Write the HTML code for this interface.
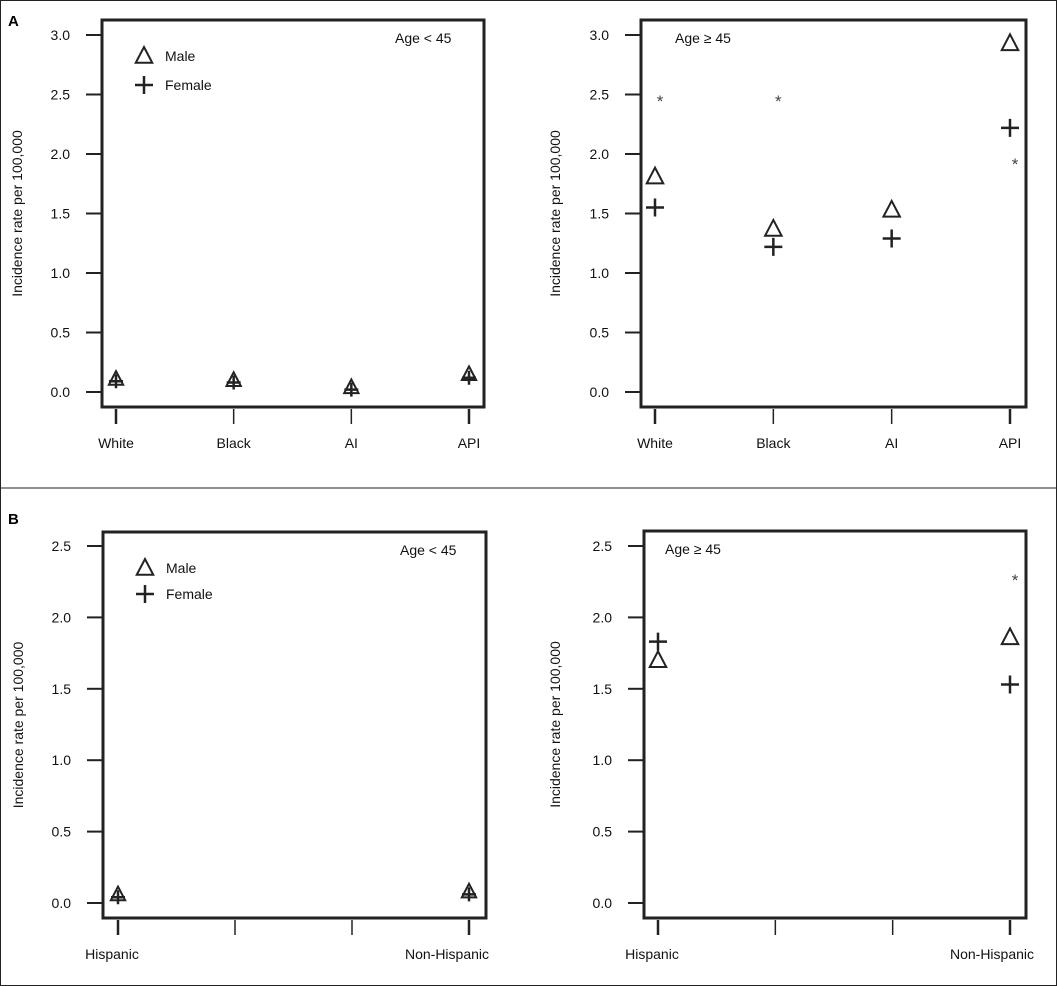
<!DOCTYPE html>
<html><head><meta charset="utf-8"><style>
html,body{margin:0;padding:0;background:#fff}
svg{display:block;font-family:"Liberation Sans",sans-serif}
</style></head><body>
<svg id="fig" width="1057" height="986" viewBox="0 0 1057 986">
<rect x="0.5" y="0.5" width="1056" height="985" fill="none" stroke="#222" stroke-width="1"/>
<line x1="0" y1="488" x2="1057" y2="488" stroke="#222" stroke-width="1"/>
<text x="8" y="26" font-size="15" font-weight="bold">A</text>
<text x="8" y="524" font-size="15" font-weight="bold">B</text>
</svg>
<script>
// Panel A data
const raceCats = ["White","Black","AI","API"];
const aYoungMale = [0.11,0.10,0.04,0.15];
const aYoungFemale = [0.09,0.08,0.02,0.12];
const aOldMale = [1.81,1.37,1.53,2.93];
const aOldFemale = [1.55,1.22,1.29,2.22];
const aOldStar = [2.48,2.48,null,1.95];
const aTicks = [0,0.5,1.0,1.5,2.0,2.5,3.0];
// Panel B data
const ethCats = ["Hispanic","","","Non-Hispanic"];
const bYoungMale = [0.06,null,null,0.08];
const bYoungFemale = [0.04,null,null,0.06];
const bOldMale = [1.70,null,null,1.86];
const bOldFemale = [1.83,null,null,1.53];
const bOldStar = [null,null,null,2.29];
const bTicks = [0,0.5,1.0,1.5,2.0,2.5];

const NS="http://www.w3.org/2000/svg";
const svg=document.getElementById('fig');
function mk(tag,attrs,parent){const e=document.createElementNS(NS,tag);for(const k in attrs)e.setAttribute(k,attrs[k]);(parent||svg).appendChild(e);return e;}

function panel(cfg){
  const g=mk('g',{});
  
  
  const y=v=>cfg.y0-(v-0)*(cfg.y0-cfg.yTop)/cfg.yMax;
  const x=i=>cfg.xs[0]+i*(cfg.xs[1]-cfg.xs[0])/3;
  const box=mk('rect',{x:cfg.bx0,y:cfg.by0,width:cfg.bx1-cfg.bx0,height:cfg.by1-cfg.by0,fill:'none',stroke:'#222','stroke-width':3},g);
  
  
  cfg.ticks.forEach(t=>{
    const l=mk('line',{x1:cfg.bx0-16,x2:cfg.bx0,y1:y(t),y2:y(t),stroke:'#222','stroke-width':2},g);
    
    
    const tx=mk('text',{x:cfg.bx0-32,y:y(t)+5,'font-size':14,'text-anchor':'end',fill:'#111'},g);
    tx.textContent=t.toFixed(1);
    
    
  });
  cfg.cats.forEach((c,i)=>{
    const l=mk('line',{x1:x(i),x2:x(i),y1:cfg.by1+2,y2:cfg.by1+17,stroke:'#222','stroke-width':(i==0||i==3)?2.5:1.5},g);
    
    
    if(c){
      const tx=mk('text',{x:x(i)+(cfg.labOff?cfg.labOff[i]:0),y:cfg.by1+41,'font-size':14,'text-anchor':'middle',fill:'#111'},g);
      tx.textContent=c;
      
      
    }
  });
  const cy=(cfg.by0+cfg.by1)/2, ax=cfg.bx0-80+(cfg.titleOff||0);
  const yt=mk('text',{x:ax,y:cy,'font-size':14,'text-anchor':'middle',transform:`rotate(-90 ${ax} ${cy})`,fill:'#111'},g);
  yt.textContent='Incidence rate per 100,000';
  
  
  const at=mk('text',{x:cfg.ageX,y:cfg.by0+23,'font-size':14,fill:'#111'},g);
  at.textContent=cfg.age;
  
  
  function tri(cx,cy,s){return mk('path',{d:`M${cx} ${cy-s*0.6}L${cx+s*0.55} ${cy+s*0.45}L${cx-s*0.55} ${cy+s*0.45}Z`,fill:'none',stroke:'#222','stroke-width':2},g);}
  function plus(cx,cy,s){return mk('path',{d:`M${cx-s/2} ${cy}H${cx+s/2}M${cx} ${cy-s/2}V${cy+s/2}`,fill:'none',stroke:'#222','stroke-width':2.5},g);}
  if(cfg.legend){
    const lx=cfg.bx0+42, ly1=cfg.by0+cfg.legend[0], ly2=cfg.by0+cfg.legend[1];
    const t1=tri(lx,ly1,15);  
    const p1=plus(lx,ly2,18);  
    const m=mk('text',{x:lx+21,y:ly1+5,'font-size':14,fill:'#111'},g); m.textContent='Male';
     
    const f=mk('text',{x:lx+21,y:ly2+5,'font-size':14,fill:'#111'},g); f.textContent='Female';
     
  }
  const s=cfg.small?13:15, ps=cfg.small?14:18;
  cfg.male.forEach((v,i)=>{ if(v==null)return;
    const p=tri(x(i),y(v),s);
    
    
  });
  cfg.female.forEach((v,i)=>{ if(v==null)return;
    const p=plus(x(i),y(v),ps);
    
    
  });
  if(cfg.star) cfg.star.forEach((v,i)=>{ if(v==null)return;
    const t=mk('text',{x:x(i)+5,y:y(v)+10,'font-size':17,'text-anchor':'middle',fill:'#444'},g);
    t.textContent='*';
    
    
  });
}
panel({name:'panel-a-age-under-45',bx0:102,bx1:484,by0:20,by1:407,y0:392,yTop:35,yMax:3.0,xs:[116,469],ticks:aTicks,cats:raceCats,male:aYoungMale,female:aYoungFemale,age:'Age < 45',ageX:395,legend:[36,65],small:true});
panel({name:'panel-a-age-45-plus',bx0:641,bx1:1026,by0:20,by1:407,y0:392,yTop:35,yMax:3.0,xs:[655,1010],ticks:aTicks,cats:raceCats,male:aOldMale,female:aOldFemale,star:aOldStar,age:'Age ≥ 45',ageX:675,titleOff:-1});
panel({name:'panel-b-age-under-45',bx0:103,bx1:486,by0:532,by1:918,y0:903,yTop:546,yMax:2.5,xs:[118,469],ticks:bTicks,cats:ethCats,male:bYoungMale,female:bYoungFemale,age:'Age < 45',ageX:400,legend:[36,62],small:true,labOff:[-6,0,0,-22]});
panel({name:'panel-b-age-45-plus',bx0:644,bx1:1026,by0:531,by1:918,y0:903,yTop:546,yMax:2.5,xs:[658,1010],ticks:bTicks,cats:ethCats,male:bOldMale,female:bOldFemale,star:bOldStar,age:'Age ≥ 45',ageX:665,labOff:[-6,0,0,-18],titleOff:-4});
</script>
</body></html>
